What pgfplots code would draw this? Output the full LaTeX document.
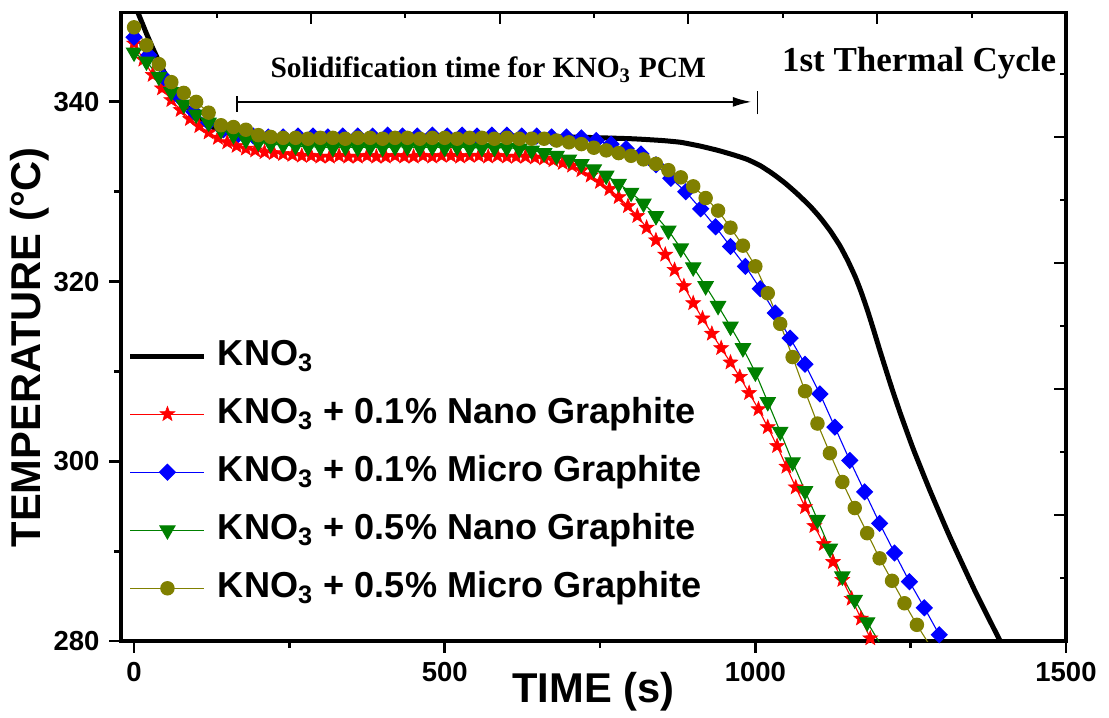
\documentclass[border=0pt]{standalone}
\usepackage{fontspec}
\setmainfont{Liberation Sans}
\newfontfamily\tnr{Liberation Serif}
\usepackage{pgfplots}
\usepackage{pgfplotstable}
\pgfplotsset{compat=1.18}
\usetikzlibrary{arrows.meta}

\definecolor{olivec}{RGB}{128,128,0}
\definecolor{greenc}{RGB}{0,128,0}

% filled five-pointed star
\pgfdeclareplotmark{fstar}{%
  \pgfpathmoveto{\pgfpointpolar{90}{\pgfplotmarksize}}%
  \pgfpathlineto{\pgfpointpolar{126}{0.42\pgfplotmarksize}}%
  \pgfpathlineto{\pgfpointpolar{162}{\pgfplotmarksize}}%
  \pgfpathlineto{\pgfpointpolar{198}{0.42\pgfplotmarksize}}%
  \pgfpathlineto{\pgfpointpolar{234}{\pgfplotmarksize}}%
  \pgfpathlineto{\pgfpointpolar{270}{0.42\pgfplotmarksize}}%
  \pgfpathlineto{\pgfpointpolar{306}{\pgfplotmarksize}}%
  \pgfpathlineto{\pgfpointpolar{342}{0.42\pgfplotmarksize}}%
  \pgfpathlineto{\pgfpointpolar{18}{\pgfplotmarksize}}%
  \pgfpathlineto{\pgfpointpolar{54}{0.42\pgfplotmarksize}}%
  \pgfpathclose
  \pgfusepathqfillstroke}

\pgfplotstableread{
t T
-5 352
0 351
10 349.3
20 347.6
30 346.0
40 344.5
50 343.1
60 341.9
70 340.8
80 339.9
90 339.1
100 338.4
120 337.4
140 336.8
160 336.4
180 336.2
200 336.1
250 336.0
300 336.0
400 336.1
500 336.2
600 336.2
700 336.1
800 335.9
850 335.7
880 335.5
910 335.1
940 334.6
965 334.1
987 333.6
1008 332.9
1028 332.0
1048 330.95
1067 329.8
1088 328.4
1104 327.15
1120 325.7
1136 324.0
1149 322.3
1161 320.5
1170 318.9
1180 316.9
1190 314.7
1201 312.2
1217 308.7
1233 305.4
1254 301.4
1281 296.75
1313 291.6
1354 285.5
1394 280.0
1404 278.6
}\kno

\pgfplotstableread{
t T
0 346.5
15 344.7
30 343.0
45 341.5
60 340.2
75 339.1
90 338.1
105 337.3
120 336.6
135 336.0
150 335.5
165 335.1
180 334.8
195 334.6
210 334.4
225 334.3
240 334.2
255 334.1
270 334.0
285 334.0
300 333.9
315 333.9
330 334.0
345 333.9
360 333.9
375 334.0
390 333.9
405 333.9
420 334.0
435 333.9
450 333.9
465 334.0
480 333.9
495 334.0
510 334.0
525 333.9
540 334.0
555 334.0
570 333.9
585 334.0
600 333.9
615 333.9
630 333.9
645 333.8
660 333.7
675 333.5
690 333.2
705 332.9
720 332.4
735 331.8
750 331.1
765 330.3
780 329.4
795 328.4
810 327.3
825 326.0
840 324.6
855 323.0
870 321.3
885 319.5
900 317.6
915 315.9
930 314.2
945 312.6
960 311.0
975 309.4
990 307.6
1005 305.8
1020 303.8
1035 301.7
1050 299.4
1065 297.1
1080 294.9
1095 292.8
1110 290.8
1125 288.8
1140 286.8
1155 284.7
1170 282.5
1185 280.3
}\nanoone

\pgfplotstableread{
t T
0 347.2
24 345.2
48 342.7
72 340.6
96 338.9
120 337.7
144 336.9
168 336.4
192 336.2
216 336.1
240 336.1
264 336.2
288 336.2
312 336.1
336 336.2
360 336.2
384 336.2
408 336.3
432 336.2
456 336.2
480 336.3
504 336.2
528 336.3
552 336.2
576 336.3
600 336.3
624 336.2
648 336.2
672 336.1
696 336.1
720 336.0
744 335.7
768 335.3
792 334.8
816 334.2
840 333.0
864 331.5
888 330.0
912 328.1
936 326.1
960 323.9
984 321.7
1008 319.2
1032 316.5
1056 313.7
1080 310.8
1104 307.5
1128 303.8
1152 300.1
1176 296.6
1200 293.1
1224 289.8
1248 286.6
1272 283.7
1296 280.7
}\microone

\pgfplotstableread{
t T
0 345.5
20 344.5
40 342.8
60 341.1
80 339.7
100 338.6
120 337.7
140 336.9
160 336.3
180 335.8
200 335.5
220 335.3
240 335.2
260 335.1
280 335.0
300 335.0
320 334.9
340 335.0
360 334.9
380 335.0
400 334.9
420 335.0
440 335.0
460 334.9
480 335.0
500 334.9
520 335.0
540 334.9
560 334.9
580 334.9
600 334.9
620 334.8
640 334.6
660 334.3
680 334.0
700 333.6
720 333.1
740 332.5
760 331.8
780 330.9
800 329.9
820 328.7
840 327.3
860 325.7
880 323.7
900 321.6
920 319.5
940 317.3
960 315.0
980 312.6
1000 309.9
1020 306.6
1040 303.3
1060 299.9
1080 296.7
1100 293.5
1120 290.3
1140 287.2
1160 284.6
1180 282.1
1200 279.8
}\nanofive

\pgfplotstableread{
t T
0 348.3
20 346.3
40 344.2
60 342.2
80 341.0
100 340.0
120 338.8
140 337.4
160 337.2
180 336.9
200 336.3
220 336.1
240 336.0
260 336.0
280 335.9
300 336.0
320 336.0
340 335.9
360 336.0
380 336.0
400 335.9
420 336.0
440 336.0
460 335.9
480 336.0
500 336.0
520 335.9
540 336.0
560 336.0
580 335.9
600 336.0
620 335.9
640 335.9
660 335.9
680 335.7
700 335.5
720 335.3
740 334.9
760 334.6
780 334.3
800 334.0
820 333.6
840 333.1
860 332.4
880 331.6
900 330.6
920 329.3
940 327.9
960 326.0
980 324.0
1000 321.7
1020 318.7
1040 315.3
1060 311.6
1080 307.8
1100 304.2
1120 300.9
1140 297.7
1160 294.8
1180 292.0
1200 289.2
1220 286.7
1240 284.2
1260 281.8
1280 279.6
}\microfive

\begin{document}
\begin{tikzpicture}
\begin{axis}[
    scale only axis,
    width=340.2pt, height=226.44pt,
    xmin=-21, xmax=1500, ymin=280, ymax=350,
    xtick={0,500,1000,1500}, minor xtick={250,750,1250},
    ytick={280,300,320,340}, minor ytick={290,310,330},
    xtick pos=bottom, ytick pos=left,
    tick align=outside,
    major tick length=4.2pt, minor tick length=2.4pt,
    every tick/.style={black, line width=1pt},
    axis line style={line width=1.1pt},
    tick label style={font=\fontsize{9.9}{12}\selectfont\bfseries},
    /pgf/number format/assume math mode=true,
    /pgf/number format/set thousands separator={},
    xlabel={TIME (s)},
    ylabel={TEMPERATURE (°C)},
    every axis x label/.style={at={(rel axis cs:0.5,-0.081)}, anchor=center,
        font=\fontsize{15}{18}\selectfont\bfseries},
    every axis y label/.style={at={(rel axis cs:-0.0965,0.467)}, rotate=90, anchor=center,
        font=\fontsize{15}{18}\selectfont\bfseries},
    legend cell align=left,
    legend image code/.code={\draw[mark repeat=2,mark phase=2] plot coordinates {(0pt,0pt) (13.3pt,0pt) (26.6pt,0pt)};},
    legend style={at={(rel axis cs:0.0074,0.4806)}, anchor=north west,
        draw=none, fill=none, inner sep=0pt, outer sep=0pt,
        font=\fontsize{13}{15}\selectfont\bfseries,
        row sep=8.4pt,
        nodes={inner sep=0pt, text height=9.5pt, text depth=3pt},
        /tikz/every odd column/.style={column sep=4pt}},
]
\coordinate (O) at (rel axis cs:0,0);

\addplot[black, line width=1.8pt, smooth, tension=0.3] table[x=t,y=T] {\kno};
\addlegendentry{KNO\textsubscript{3}}
\addplot[red, line width=0.4pt, mark=fstar, mark size=2.8pt, mark options={fill=red, line width=0.2pt}] table[x=t,y=T] {\nanoone};
\addlegendentry{KNO\textsubscript{3} + 0.1\% Nano Graphite}
\addplot[blue, line width=0.4pt, mark=square*, mark size=2.0pt, mark options={rotate=45, fill=blue}] table[x=t,y=T] {\microone};
\addlegendentry{KNO\textsubscript{3} + 0.1\% Micro Graphite}
\addplot[greenc, line width=0.4pt, mark=triangle*, mark size=3.1pt, mark options={rotate=180, fill=greenc}] table[x=t,y=T] {\nanofive};
\addlegendentry{KNO\textsubscript{3} + 0.5\% Nano Graphite}
\addplot[olivec, line width=0.4pt, mark=*, mark size=2.4pt, mark options={fill=olivec}] table[x=t,y=T] {\microfive};
\addlegendentry{KNO\textsubscript{3} + 0.5\% Micro Graphite}

\node[anchor=base east, inner sep=0pt, font=\tnr\bfseries\fontsize{12.6}{14}\selectfont] at (axis cs:1485,343.4) {1st Thermal Cycle};
\node[anchor=base, inner sep=0pt, font=\tnr\bfseries\fontsize{10.6}{13}\selectfont] at (axis cs:570,342.7) {Solidification time for KNO\textsubscript{3} PCM};
\draw[line width=0.9pt, -{Latex[length=7pt,width=3.6pt]}] (axis cs:166,340) -- (axis cs:995,340);
\draw[line width=0.5pt] (axis cs:166,338.9) -- (axis cs:166,340.7);
\draw[line width=0.4pt] (axis cs:1003,338.6) -- (axis cs:1003,341.2);
\end{axis}

% ticks of the top and right axes
\begin{axis}[
    scale only axis,
    width=340.2pt, height=226.44pt,
    xmin=0, xmax=945, ymin=0, ymax=629,
    xtick={190,379,567,756}, minor xtick={96,284,473,662,851},
    ytick={126,252,378,504}, minor ytick={63,189,315,441,567},
    xtick pos=top, ytick pos=right,
    tick align=inside,
    xticklabels={}, yticklabels={},
    axis line style={draw=none},
    major tick length=4.3pt, minor tick length=2pt,
    every tick/.style={black, line width=1pt},
]
\end{axis}

\pgfresetboundingbox
\path (O) ++(-43.56pt,-27.36pt) rectangle ++(399.24pt,258.12pt);
\end{tikzpicture}
\end{document}
